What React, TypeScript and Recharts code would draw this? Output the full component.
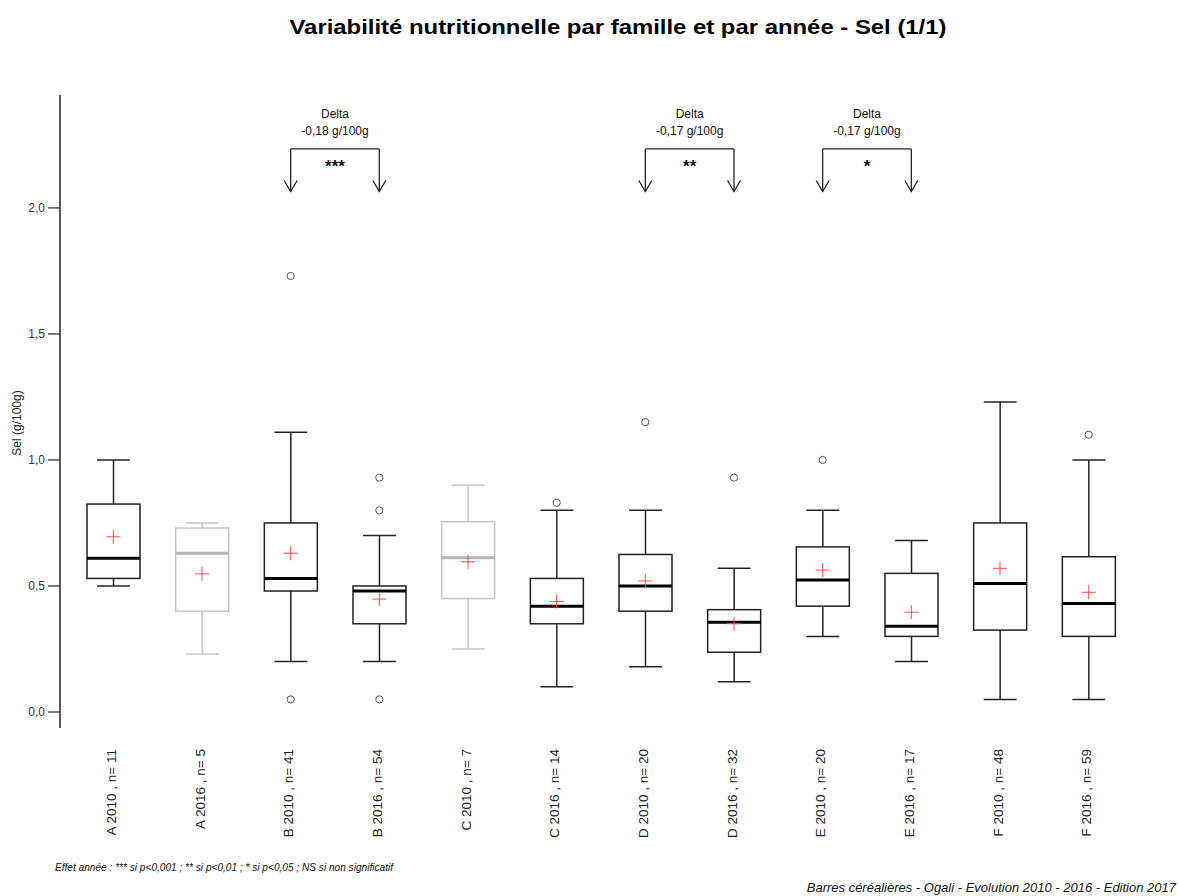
import React from 'react';
import { ComposedChart, Bar, Line, XAxis, YAxis, ReferenceLine } from 'recharts';

const categories = [
  'A 2010 , n= 11', 'A 2016 , n= 5', 'B 2010 , n= 41', 'B 2016 , n= 54',
  'C 2010 , n= 7', 'C 2016 , n= 14', 'D 2010 , n= 20', 'D 2016 , n= 32',
  'E 2010 , n= 20', 'E 2016 , n= 17', 'F 2010 , n= 48', 'F 2016 , n= 59',
];
const whiskerLow = [0.50, 0.23, 0.20, 0.20, 0.25, 0.10, 0.18, 0.12, 0.30, 0.20, 0.05, 0.05];
const q1 = [0.53, 0.40, 0.48, 0.35, 0.45, 0.35, 0.40, 0.237, 0.42, 0.30, 0.325, 0.30];
const median = [0.61, 0.63, 0.53, 0.48, 0.612, 0.42, 0.50, 0.356, 0.524, 0.34, 0.51, 0.43];
const q3 = [0.825, 0.73, 0.75, 0.50, 0.755, 0.53, 0.625, 0.406, 0.655, 0.55, 0.75, 0.616];
const whiskerHigh = [1.00, 0.75, 1.11, 0.70, 0.90, 0.80, 0.80, 0.57, 0.80, 0.68, 1.23, 1.00];
const means = [0.695, 0.548, 0.63, 0.448, 0.596, 0.438, 0.52, 0.35, 0.563, 0.396, 0.57, 0.475];
const outliers: number[][] = [[], [], [1.73, 0.05], [0.93, 0.80, 0.05], [], [0.83], [1.15], [0.93], [1.00], [], [], [1.10]];
const smallSample = [false, true, false, false, true, false, false, false, false, false, false, false];

const yTicks = [0, 0.5, 1.0, 1.5, 2.0];
const yDomain = [-0.0635, 2.448];

const deltaPairs = [
  { from: 2, to: 3, delta: '-0,18 g/100g', stars: '***' },
  { from: 6, to: 7, delta: '-0,17 g/100g', stars: '**' },
  { from: 8, to: 9, delta: '-0,17 g/100g', stars: '*' },
];
const bracketY = 2.234;
const arrowTipY = 2.065;

const title = 'Variabilité nutritionnelle par famille et par année - Sel (1/1)';
const yLabel = 'Sel (g/100g)';
const footLeft = 'Effet année : *** si p<0,001 ; ** si p<0,01 ; * si p<0,05 ; NS si non significatif';
const footRight = 'Barres céréalières - Ogali - Evolution 2010 - 2016 - Edition 2017';

const FONT = '"Liberation Sans", Arial, Helvetica, sans-serif';

const data = categories.map((c, i) => ({
  cat: c,
  range: [whiskerLow[i], whiskerHigh[i]],
  wLow: whiskerLow[i],
  wHigh: whiskerHigh[i],
  q1: q1[i],
  median: median[i],
  q3: q3[i],
  mean: means[i],
  out1: outliers[i][0] ?? null,
  out2: outliers[i][1] ?? null,
  out3: outliers[i][2] ?? null,
  grey: smallSample[i],
}));

const BoxShape = (props: any) => {
  const { x, y, width, height, payload } = props;
  const lo = payload.wLow;
  const hi = payload.wHigh;
  const py = (v: number) => y + ((hi - v) / (hi - lo)) * height;
  const cx = x + width / 2;
  const color = payload.grey ? '#c4c4c4' : '#222';
  const medColor = payload.grey ? '#b4b4b4' : '#000';
  const capHalf = width * 0.31;
  const yq1 = py(payload.q1);
  const yq3 = py(payload.q3);
  return (
    <g>
      <line x1={cx} x2={cx} y1={py(hi)} y2={yq3} stroke={color} strokeWidth={1.5} />
      <line x1={cx} x2={cx} y1={yq1} y2={py(lo)} stroke={color} strokeWidth={1.5} />
      <line x1={cx - capHalf} x2={cx + capHalf} y1={py(hi)} y2={py(hi)} stroke={color} strokeWidth={1.5} />
      <line x1={cx - capHalf} x2={cx + capHalf} y1={py(lo)} y2={py(lo)} stroke={color} strokeWidth={1.5} />
      <rect x={x} y={yq3} width={width} height={yq1 - yq3} fill="#fff" stroke={color} strokeWidth={1.5} />
      <line x1={x} x2={x + width} y1={py(payload.median)} y2={py(payload.median)} stroke={medColor} strokeWidth={3} />
    </g>
  );
};

const PlusDot = (props: any) => {
  const { cx, cy, value, index } = props;
  if (value == null || cy == null || !isFinite(cy)) return <g key={`p${index}`} />;
  return (
    <g key={`p${index}`}>
      <line x1={cx - 7} x2={cx + 7} y1={cy} y2={cy} stroke="#ff4a4a" strokeWidth={1} />
      <line x1={cx} x2={cx} y1={cy - 7} y2={cy + 7} stroke="#ff4a4a" strokeWidth={1} />
    </g>
  );
};

const CircleDot = (props: any) => {
  const { cx, cy, value, index, dataKey } = props;
  if (value == null || cy == null || !isFinite(cy)) return <g key={`c${dataKey}${index}`} />;
  return <circle key={`c${dataKey}${index}`} cx={cx} cy={cy} r={3.6} fill="none" stroke="#555" strokeWidth={1} />;
};

const XTick = (props: any) => {
  const { x, y, payload } = props;
  return (
    <text
      transform={`translate(${x - 2},${y}) rotate(-90)`}
      textAnchor="end"
      dominantBaseline="central"
      fontSize={13.5}
      fontFamily={FONT}
      fill="#222"
    >
      {payload.value}
    </text>
  );
};

const ArrowShape = (props: any) => {
  const { x1, y1, x2, y2 } = props;
  return (
    <g>
      <line x1={x1} y1={y1} x2={x2} y2={y2} stroke="#222" strokeWidth={1.3} />
      <polyline points={`${x2 - 6.5},${y2 - 11} ${x2},${y2} ${x2 + 6.5},${y2 - 11}`} fill="none" stroke="#222" strokeWidth={1.3} />
    </g>
  );
};

const BracketShape = (props: any) => {
  const { x1, y1, x2, y2 } = props;
  return <line x1={x1} y1={y1} x2={x2} y2={y2} stroke="#222" strokeWidth={1.3} />;
};

const makeDeltaLabel = (delta: string, stars: string) => (props: any) => {
  const vb = props.viewBox || {};
  const mx = vb.x + (vb.width || 0) / 2;
  const by = vb.y;
  return (
    <g fontFamily={FONT}>
      <text x={mx} y={by - 31} textAnchor="middle" fontSize={12} fill="#111">Delta</text>
      <text x={mx} y={by - 14} textAnchor="middle" fontSize={12} fill="#111">{delta}</text>
      <text x={mx} y={by + 23} textAnchor="middle" fontSize={17} fontWeight="bold" fill="#111">{stars}</text>
    </g>
  );
};

const fmt = (v: number) => v.toFixed(1).replace('.', ',');

export default function App() {
  return (
    <div style={{ position: 'absolute', left: 0, top: 0, width: 1178, height: 896, background: '#fff' }}>
      <ComposedChart
        width={1178}
        height={896}
        data={data}
        margin={{ top: 95, right: 38, bottom: 0, left: 0 }}
      >
        <XAxis
          dataKey="cat"
          type="category"
          height={168}
          axisLine={false}
          tickLine={false}
          interval={0}
          tick={<XTick />}
          tickMargin={15}
          padding={{ left: 9, right: 7 }}
        />
        <YAxis
          type="number"
          domain={yDomain}
          allowDataOverflow
          ticks={yTicks}
          width={60}
          tickSize={12}
          tickMargin={3}
          tickFormatter={fmt}
          tick={{ fontSize: 12, fill: '#333', fontFamily: FONT }}
          axisLine={{ stroke: '#333', strokeWidth: 1.6 }}
          tickLine={{ stroke: '#333', strokeWidth: 1.3 }}
        />
        <Bar dataKey="range" barSize={53} shape={<BoxShape />} isAnimationActive={false} />
        <Line dataKey="mean" stroke="none" dot={PlusDot} activeDot={false} isAnimationActive={false} legendType="none" />
        <Line dataKey="out1" stroke="none" dot={CircleDot} activeDot={false} isAnimationActive={false} legendType="none" />
        <Line dataKey="out2" stroke="none" dot={CircleDot} activeDot={false} isAnimationActive={false} legendType="none" />
        <Line dataKey="out3" stroke="none" dot={CircleDot} activeDot={false} isAnimationActive={false} legendType="none" />
        {deltaPairs.map((p) => (
          <ReferenceLine
            key={`br${p.from}`}
            segment={[{ x: categories[p.from], y: bracketY }, { x: categories[p.to], y: bracketY }]}
            shape={BracketShape}
            label={makeDeltaLabel(p.delta, p.stars)}
            ifOverflow="visible"
          />
        ))}
        {deltaPairs.map((p) => (
          <ReferenceLine
            key={`al${p.from}`}
            segment={[{ x: categories[p.from], y: bracketY }, { x: categories[p.from], y: arrowTipY }]}
            shape={ArrowShape}
            ifOverflow="visible"
          />
        ))}
        {deltaPairs.map((p) => (
          <ReferenceLine
            key={`ar${p.to}`}
            segment={[{ x: categories[p.to], y: bracketY }, { x: categories[p.to], y: arrowTipY }]}
            shape={ArrowShape}
            ifOverflow="visible"
          />
        ))}
      </ComposedChart>
      <svg width={1178} height={896} style={{ position: 'absolute', left: 0, top: 0, pointerEvents: 'none' }}>
        <text x={618} y={34} textAnchor="middle" fontSize={21} fontWeight="bold" fontFamily={FONT} fill="#000" textLength={657} lengthAdjust="spacingAndGlyphs">{title}</text>
        <text transform="translate(21,423) rotate(-90)" textAnchor="middle" fontSize={12} fontFamily={FONT} fill="#222">{yLabel}</text>
        <text x={55} y={871} fontSize={10.5} fontStyle="italic" fontFamily={FONT} fill="#111" textLength={338} lengthAdjust="spacingAndGlyphs">{footLeft}</text>
        <text x={1176} y={892} textAnchor="end" fontSize={13} fontStyle="italic" fontFamily={FONT} fill="#111">{footRight}</text>
      </svg>
    </div>
  );
}
